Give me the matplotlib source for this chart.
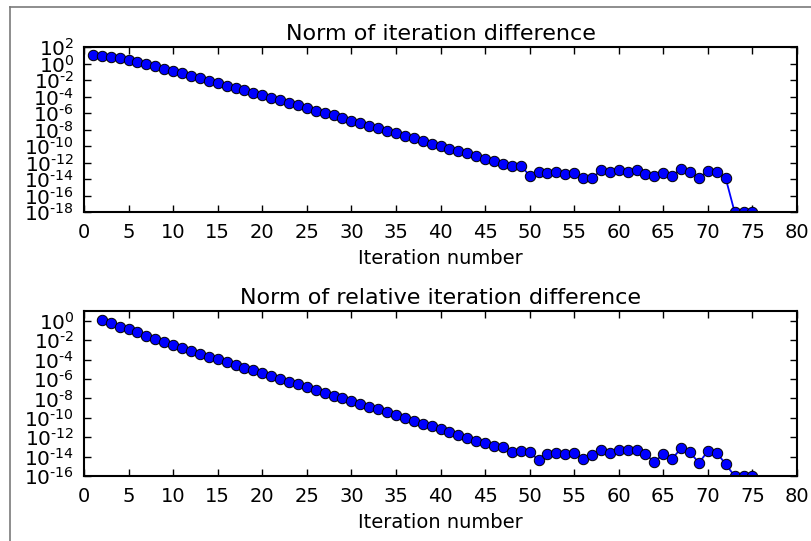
import numpy as np
import matplotlib
matplotlib.use("Agg")
import matplotlib.pyplot as plt
from matplotlib.lines import Line2D
from matplotlib.ticker import NullLocator, FixedLocator, FixedFormatter

# Absolute step norm per iteration (log10 values)
iter_abs = list(range(1, 76))
log_abs = [
    0.99, 0.95, 0.83, 0.70, 0.46, 0.22, -0.06, -0.35, -0.63, -0.91,
    -1.20, -1.48, -1.81, -2.09, -2.37, -2.70, -2.98, -3.22, -3.55, -3.87,
    -4.19, -4.48, -4.76, -5.09, -5.37, -5.70, -5.98, -6.26, -6.58, -6.91,
    -7.23, -7.55, -7.84, -8.16, -8.45, -8.77, -9.05, -9.42, -9.70, -9.98,
    -10.31, -10.59, -10.87, -11.16, -11.52, -11.81, -12.17, -12.37, -12.37, -13.59,
    -13.14, -13.30, -13.18, -13.42, -13.22, -13.91, -13.91, -12.94, -13.14, -12.86,
    -13.14, -12.94, -13.42, -13.59, -13.30, -13.59, -12.78, -13.14, -13.91, -12.98,
    -13.14, -13.91, -18.0, -18.0, -18.0,
]

# Relative step norm per iteration (log10 values)
iter_rel = list(range(2, 76))
log_rel = [
    0.07, -0.28, -0.62, -0.89, -1.20, -1.55, -1.86, -2.17, -2.55,
    -2.86, -3.13, -3.44, -3.75, -3.99, -4.27, -4.54, -4.85, -5.09, -5.40,
    -5.68, -5.99, -6.30, -6.54, -6.85, -7.16, -7.43, -7.71, -7.99, -8.29,
    -8.57, -8.84, -9.12, -9.43, -9.70, -9.98, -10.32, -10.60, -10.87, -11.18,
    -11.49, -11.77, -12.04, -12.35, -12.59, -12.87, -13.04, -13.52, -13.45, -13.52,
    -14.38, -13.73, -13.59, -13.76, -13.59, -14.28, -13.80, -13.32, -13.66, -13.35,
    -13.35, -13.28, -13.76, -14.56, -13.73, -14.21, -13.15, -13.56, -14.66, -13.42,
    -13.59, -14.80, -16.0, -16.0, -16.0,
]

titles = ["Norm of iteration difference", "Norm of relative iteration difference"]
xlabel = "Iteration number"
xticks = list(range(0, 81, 5))
yticks_abs = [2, 0, -2, -4, -6, -8, -10, -12, -14, -16, -18]
yticks_rel = [0, -2, -4, -6, -8, -10, -12, -14, -16]

plt.rcParams["font.family"] = "DejaVu Sans"
plt.rcParams["axes.unicode_minus"] = False
fig = plt.figure(figsize=(8.11, 5.41), dpi=100)
fig.patch.set_facecolor("white")

# frame edge of the figure
fig.add_artist(Line2D([10 / 811, 1.0], [1 - 6.5 / 541] * 2, transform=fig.transFigure,
                      color="#7a7a7a", lw=1.2))
fig.add_artist(Line2D([10 / 811] * 2, [0.0, 1 - 6.5 / 541], transform=fig.transFigure,
                      color="#7a7a7a", lw=1.2))

axes_rects = [[84 / 811, 329 / 541, 713 / 811, 165 / 541],
              [84 / 811, 65 / 541, 713 / 811, 165 / 541]]
series = [(iter_abs, log_abs, yticks_abs, (1e-18, 1e2)),
          (iter_rel, log_rel, yticks_rel, (1e-16, 1e1))]


def power_label(e):
    # hyphen-style exponent, drawn as plain text inside the superscript
    return r"$\mathdefault{10^{\text{%d}}}$" % e


for rect, (xs, logs, yt, ylim), title in zip(axes_rects, series, titles):
    ax = fig.add_axes(rect)
    ax.plot(xs, 10.0 ** np.array(logs), "o-", color="blue", mfc="blue",
            mec="black", mew=0.7, ms=7.5, lw=1.3)
    ax.set_yscale("log")
    ax.set_xlim(0, 80)
    ax.set_ylim(*ylim)
    ax.xaxis.set_major_locator(FixedLocator(xticks))
    ax.yaxis.set_major_locator(FixedLocator([10.0 ** v for v in yt]))
    ax.yaxis.set_major_formatter(FixedFormatter([power_label(v) for v in yt]))
    ax.yaxis.set_minor_locator(NullLocator())
    ax.xaxis.set_minor_locator(NullLocator())
    ax.tick_params(direction="in", top=True, right=True, length=5, width=1,
                   labelsize=14.5, pad=7)
    ax.tick_params(axis="x", pad=8, labelsize=14)
    for s in ax.spines.values():
        s.set_linewidth(1.5)
    ax.set_title(title, fontsize=16, pad=5)
    ax.set_xlabel(xlabel, fontsize=14, labelpad=5)

fig.savefig("out.png", dpi=100)
